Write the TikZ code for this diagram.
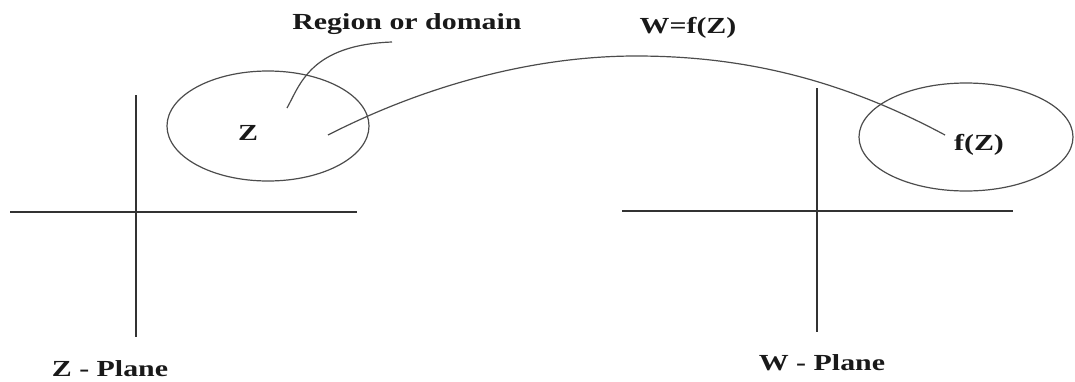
\documentclass[tikz,border=0pt]{standalone}
\usepackage{fontspec}
\setmainfont{Liberation Serif}
\newfontfamily\lblfont[FakeStretch=1.3]{Liberation Serif}
\begin{document}
\begin{tikzpicture}[x=1pt,y=-1pt,
  lbl/.style={font=\lblfont\fontsize{23}{26}\selectfont\bfseries, text=black!90, inner sep=0pt},
  ln/.style={draw=black!80, line width=1.4pt},
  oval/.style={draw=black!70, line width=1.2pt}]
\useasboundingbox (0,0) rectangle (1075,381);
% axes
\draw[ln] (10,212) -- (357,212);
\draw[ln] (136,95) -- (136,337);
\draw[ln] (622,211) -- (1013,211);
\draw[ln] (817,88) -- (817,332);
% regions
\draw[oval] (268,126) ellipse [x radius=101, y radius=55];
\draw[oval] (966,137) ellipse [x radius=107, y radius=54];
% labels
\node[lbl] (region) at (407,24) {Region or domain};
\node[lbl] (map) at (688,28) {W=f(Z)};
\node[lbl] (z) at (248,133) {Z};
\node[lbl] (fz) at (979,145) {f(Z)};
\node[lbl] (zplane) at (110,369) {Z - Plane};
\node[lbl] (wplane) at (822,363) {W - Plane};
% connectors
\coordinate (rs) at (392,42);
\coordinate (re) at (287,108);
\coordinate (cs) at (328,135);
\coordinate (peak) at (636,56);
\coordinate (ce) at (945,135);
\draw[oval] (rs) .. controls (310,45) and (300,85) .. (re);
\draw[oval] (cs) .. controls (428,84) and (536,56) .. (peak)
  .. controls (736,56) and (835,76) .. (ce);
\end{tikzpicture}
\end{document}
